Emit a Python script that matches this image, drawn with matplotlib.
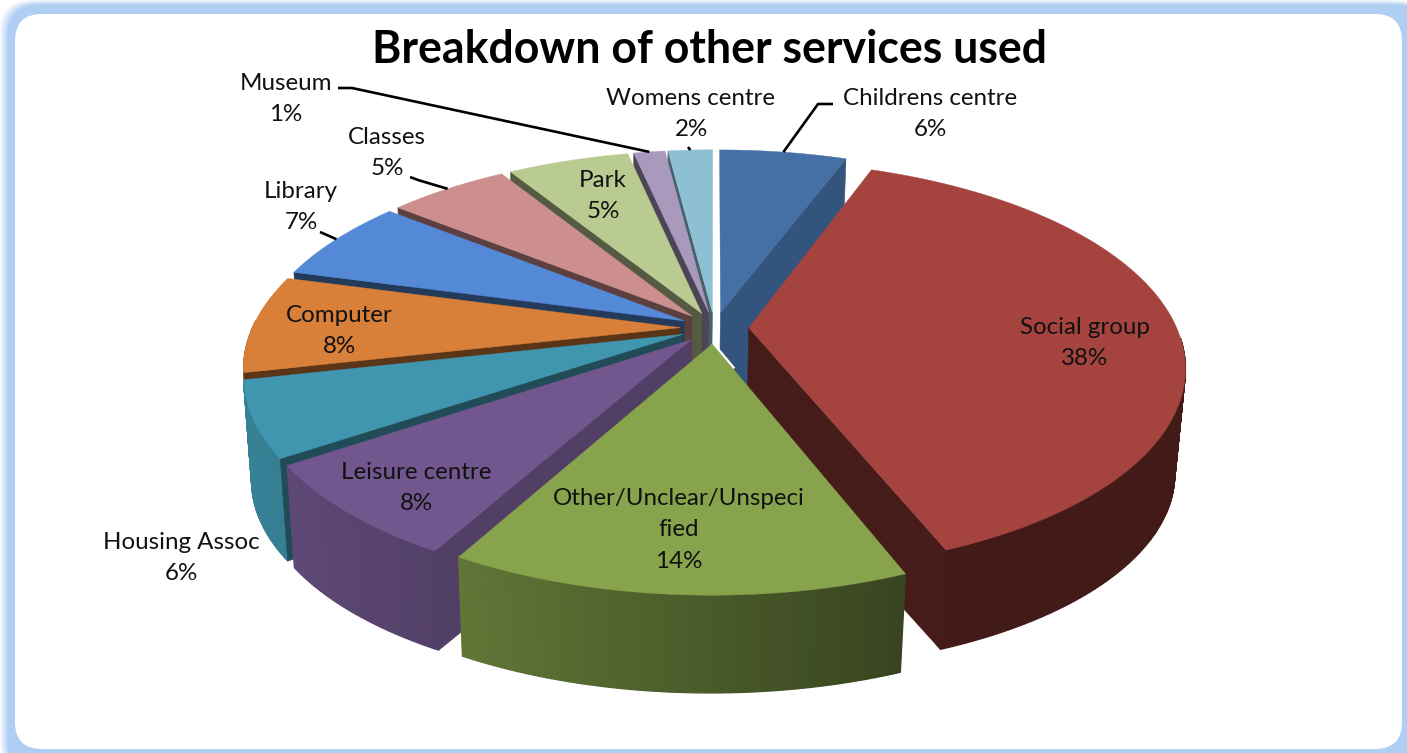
import numpy as np
import matplotlib
matplotlib.use("Agg")
import matplotlib.pyplot as plt
from matplotlib.patches import Polygon, FancyBboxPatch
from matplotlib.colors import to_rgb

# ---- data ----
title = "Breakdown of other services used"
categories = ["Childrens centre", "Social group", "Other/Unclear/Unspeci\nfied", "Leisure centre",
              "Housing Assoc", "Computer", "Library", "Classes", "Park", "Museum", "Womens centre"]
values = [5.7, 38.3, 14.1, 7.5, 5.9, 7.7, 6.55, 5.4, 5.45, 1.4, 2.0]
percent_labels = ["6%", "38%", "14%", "8%", "6%", "8%", "7%", "5%", "5%", "1%", "2%"]
colors = ["#4470A5", "#A5433F", "#87A44C", "#71578E", "#4096AE", "#D87F3A",
          "#5389D6", "#CD8F8D", "#BACB92", "#A899BD", "#8EC0D3"]
wall_shade = [0.75, 0.42, 0.5, 0.72, 0.5, 0.42, 0.42, 0.45, 0.45, 0.45, 0.5]

# ---- layout (pixels) ----
W, H = 1407, 753
label_pos = [(930, 114), (1085, 343), (679, 530), (416, 488), (181, 558), (339, 331),
             (301, 207), (387, 153), (603, 196), (286, 99), (691, 114)]
leader_from = {0: (833, 104), 9: (338, 88), 7: (410, 177), 6: (320, 232), 10: (688, 147)}
leader_bend = {0: (818, 104), 9: (352, 88), 7: (418, 180)}
CX, CY, RX, RY, PERSP, EXPL = 714.5, 328, 428, 198, 0.185, 0.08
VP = (650, 3540)
DEPTH_SX, DEPTH_SY = 0.98, 0.9668

fig = plt.figure(figsize=(W / 100, H / 100), dpi=100)
ax = fig.add_axes([0, 0, 1, 1])
ax.set_xlim(0, W)
ax.set_ylim(H, 0)
ax.axis("off")

# ---- frame ----
blue = np.array(to_rgb("#AECEF4"))
white = np.array([1, 1, 1])
n = 9
for i in range(n):
    f = (i + 1) / n
    c = white + (blue - white) * f
    l, t = i * 1.0, i * 0.6
    ax.add_patch(FancyBboxPatch((l + 32, t + 32), W + 20 - 2 * 32 - l, H + 20 - 2 * 32 - t,
                                boxstyle="round,pad=32,rounding_size=32", fc=c, ec="none"))
ax.add_patch(FancyBboxPatch((15 + 27, 14 + 27), 1402 - 15 - 54, 749 - 14 - 54,
                            boxstyle="round,pad=27,rounding_size=27", fc="white", ec="none"))


def proj(r, theta, mid, bottom=False):
    """Polar position on the pie plane -> picture position."""
    a, m = np.radians(theta), np.radians(mid)
    X = r * np.sin(a) + EXPL * np.sin(m)
    V = -r * np.cos(a) - EXPL * np.cos(m)
    k = 1 / (1 - PERSP * V)
    x, y = CX + RX * X * k, CY + RY * V * k
    if bottom:
        x = VP[0] + DEPTH_SX * (x - VP[0])
        y = VP[1] + DEPTH_SY * (y - VP[1])
    return (x, y)


def rim_shade(x):
    t = np.clip((x - 250) / 680, 0, 1)
    return 0.86 - 0.46 * t


total = sum(values)
edges = np.concatenate([[0], np.cumsum(values)]) / total * 360
mids = (edges[:-1] + edges[1:]) / 2
order = np.argsort(-np.cos(np.radians(mids)))


def wall(a, m, wc):
    ax.add_patch(Polygon([proj(0, a, m), proj(1, a, m), proj(1, a, m, True), proj(0, a, m, True)],
                         fc=wc, ec=wc, lw=0.4, zorder=2))


for i in order:
    a0, a1, m = edges[i], edges[i + 1], mids[i]
    base = np.array(to_rgb(colors[i]))
    wc = base * wall_shade[i]
    # rim: only the part that faces the viewer
    lo, hi = max(a0, 93), min(a1, 272)
    if hi > lo:
        th = np.linspace(lo, hi, max(int(hi - lo) * 2, 4))
        for p, q in zip(th[:-1], th[1:]):
            pts = [proj(1, p, m), proj(1, q, m), proj(1, q, m, True), proj(1, p, m, True)]
            c = base * rim_shade(pts[0][0])
            ax.add_patch(Polygon(pts, fc=c, ec=c, lw=0.9, zorder=2))
    # radial walls that face the viewer
    if a0 > 180:
        wall(a0, m, wc)
    if a1 < 180:
        wall(a1, m, wc)
    # thin white gap where the front slice passes the wall of the first slice
    if a0 < 180 < a1:
        gap = [proj(0, a0, m), proj(0.13, a0, m)]
        ax.plot(*zip(*gap), color="white", lw=3.5, zorder=2, solid_capstyle="butt")
    # top
    top = [proj(0, a0, m)] + [proj(1, t, m) for t in np.linspace(a0, a1, 80)]
    ax.add_patch(Polygon(top, fc=base, ec=base, lw=0.3, zorder=2))

# ---- labels ----
plt.rcParams["font.family"] = ["Lato", "DejaVu Sans"]
ax.text(709, 50, title, ha="center", va="center", fontsize=32.1, fontweight="bold", color="black", zorder=5)
for i, (cat, v) in enumerate(zip(categories, percent_labels)):
    x, y = label_pos[i]
    ax.text(x, y, f"{cat}\n{v}", ha="center", va="center", fontsize=17.4, color="#111111",
            linespacing=1.6, zorder=5)
for i, start in leader_from.items():
    pts = [start]
    if i in leader_bend:
        pts.append(leader_bend[i])
    pts.append(proj(1, mids[i], mids[i]))
    xs, ys = zip(*pts)
    ax.plot(xs, ys, color="black", lw=1.9, zorder=4, solid_capstyle="butt")

fig.savefig("out.png", dpi=100)
